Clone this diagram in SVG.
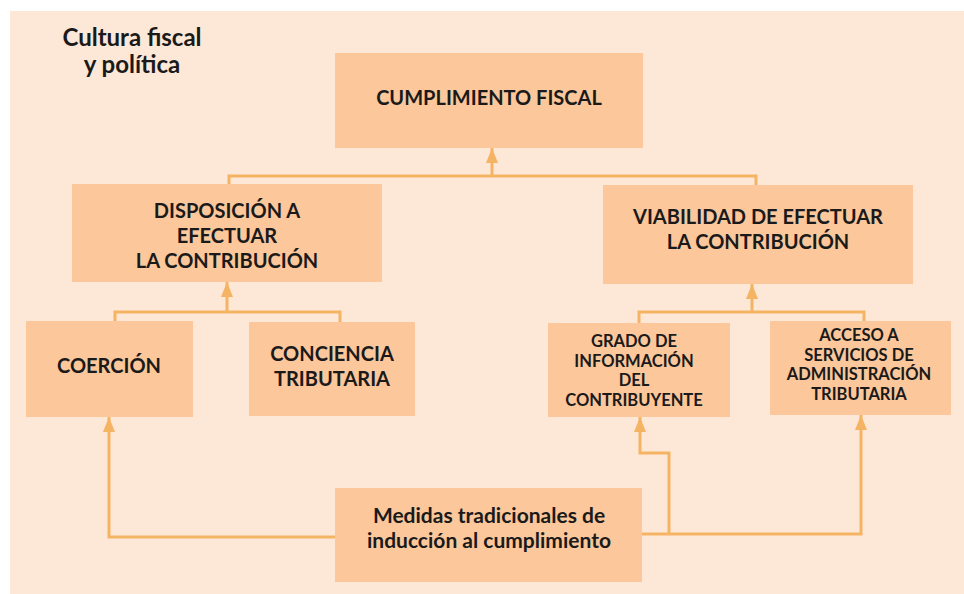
<svg xmlns="http://www.w3.org/2000/svg" width="964" height="594" viewBox="0 0 964 594">
<defs>
<style>
.box{fill:#FCC79B;}
.t{font-family:Lato,"Open Sans","Liberation Sans",sans-serif;font-weight:bold;fill:#1a1a1a;text-anchor:middle;}
.c{fill:none;stroke:#F5B463;stroke-width:3;}
</style>
<marker id="ah" viewBox="0 0 15 12" refX="15" refY="6" markerWidth="15" markerHeight="12" markerUnits="userSpaceOnUse" orient="auto">
<path d="M0,0 L15,6 L0,12 Z" fill="#F5B463"/>
</marker>
</defs>
<rect width="964" height="594" fill="#ffffff"/>
<rect x="10" y="11" width="954" height="583" fill="#FDE7D7"/>
<g id="title">
<text class="t" x="132" y="46" font-size="24">Cultura fiscal</text>
<text class="t" x="132" y="73" font-size="24">y política</text>
</g>
<g id="connectors">
<polyline class="c" points="229,184 229,176 756,176 756,185"/>
<line class="c" x1="492" y1="176" x2="492" y2="148" marker-end="url(#ah)"/>
<polyline class="c" points="115,321 115,312 340,312 340,322"/>
<line class="c" x1="227" y1="312" x2="227" y2="282" marker-end="url(#ah)"/>
<polyline class="c" points="639,323 639,312 864,312 864,321"/>
<line class="c" x1="752" y1="312" x2="752" y2="284" marker-end="url(#ah)"/>
<polyline class="c" points="335,537 109,537 109,417" marker-end="url(#ah)"/>
<polyline class="c" points="642,534 861,534 861,415" marker-end="url(#ah)"/>
<polyline class="c" points="669,534 669,453 640,453 640,417" marker-end="url(#ah)"/>
</g>
<g id="cumplimiento">
<rect class="box" x="335" y="53" width="308" height="95"/>
<text class="t" x="489" y="105" font-size="20">CUMPLIMIENTO FISCAL</text>
</g>
<g id="disposicion">
<rect class="box" x="72" y="184" width="310" height="98"/>
<text class="t" x="227" y="218" font-size="20">DISPOSICIÓN A</text>
<text class="t" x="227" y="243" font-size="20">EFECTUAR</text>
<text class="t" x="227" y="268" font-size="20">LA CONTRIBUCIÓN</text>
</g>
<g id="viabilidad">
<rect class="box" x="603" y="185" width="310" height="99"/>
<text class="t" x="758" y="224" font-size="20">VIABILIDAD DE EFECTUAR</text>
<text class="t" x="758" y="249" font-size="20">LA CONTRIBUCIÓN</text>
</g>
<g id="coercion">
<rect class="box" x="26" y="321" width="167" height="96"/>
<text class="t" x="109" y="373" font-size="20">COERCIÓN</text>
</g>
<g id="conciencia">
<rect class="box" x="249" y="322" width="166" height="94"/>
<text class="t" x="332" y="361" font-size="20">CONCIENCIA</text>
<text class="t" x="332" y="386" font-size="20">TRIBUTARIA</text>
</g>
<g id="grado">
<rect class="box" x="548" y="323" width="182" height="94"/>
<text class="t" x="634" y="347" font-size="16.5">GRADO DE</text>
<text class="t" x="634" y="367" font-size="16.5">INFORMACIÓN</text>
<text class="t" x="634" y="386" font-size="16.5">DEL</text>
<text class="t" x="634" y="406" font-size="16.5">CONTRIBUYENTE</text>
</g>
<g id="acceso">
<rect class="box" x="770" y="321" width="181" height="94"/>
<text class="t" x="859" y="341" font-size="16.5">ACCESO A</text>
<text class="t" x="859" y="361" font-size="16.5">SERVICIOS DE</text>
<text class="t" x="859" y="380" font-size="16.5">ADMINISTRACIÓN</text>
<text class="t" x="859" y="400" font-size="16.5">TRIBUTARIA</text>
</g>
<g id="medidas">
<rect class="box" x="335" y="488" width="307" height="94"/>
<text class="t" x="489" y="523" font-size="21">Medidas tradicionales de</text>
<text class="t" x="489" y="548" font-size="21">inducción al cumplimiento</text>
</g>
</svg>
